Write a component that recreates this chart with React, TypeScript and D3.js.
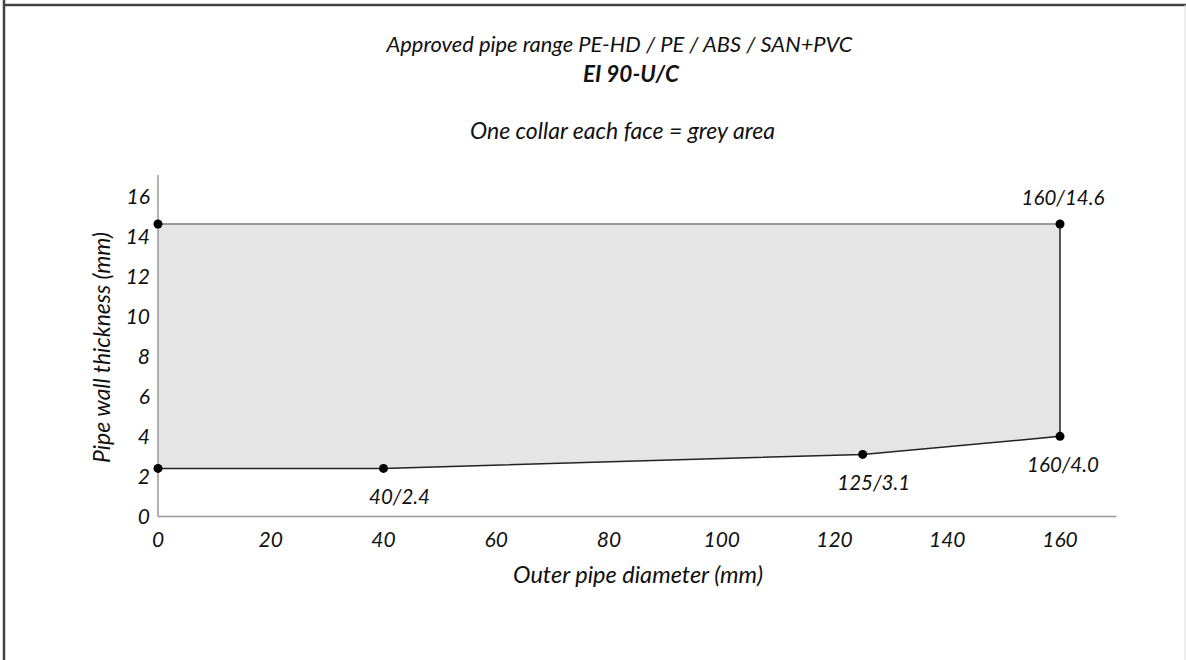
import React from "react";
import * as d3 from "d3";

const xTicks = [0, 20, 40, 60, 80, 100, 120, 140, 160];
const yTicks = [0, 2, 4, 6, 8, 10, 12, 14, 16];
const areaX = [0, 160, 160, 125, 40, 0];
const areaY = [14.6, 14.6, 4.0, 3.1, 2.4, 2.4];
const pointX = [0, 0, 40, 125, 160, 160];
const pointY = [14.6, 2.4, 2.4, 3.1, 4.0, 14.6];
const labelX = [40, 125, 160, 160];
const labelY = [2.4, 3.1, 4.0, 14.6];
const labelText = ["40/2.4", "125/3.1", "160/4.0", "160/14.6"];
const labelDx = [16, 11, 3, 3];
const labelDy = [36, 36, 36, -19];

const W = 1186;
const H = 660;
const FONT = "Lato, 'Open Sans', sans-serif";
const TXT = "#111";

export default function App() {
  const x = d3.scaleLinear().domain([0, 160]).range([158, 1060]);
  const y = d3.scaleLinear().domain([0, 14.6]).range([516.5, 224]);
  const xMax = 170;
  const yMax = 17.05;

  const pts: [number, number][] = areaX.map((v, i) => [x(v), y(areaY[i])]);
  const poly = d3.line()(pts.concat([pts[0]])) || "";
  const bottom =
    d3.line()([
      [x(0), y(2.4)],
      [x(40), y(2.4)],
      [x(125), y(3.1)],
      [x(160), y(4.0)],
      [x(160), y(14.6)],
    ]) || "";
  const top =
    d3.line()([
      [x(0), y(14.6)],
      [x(160), y(14.6)],
    ]) || "";

  const common = { fontFamily: FONT, fontStyle: "italic", fill: TXT } as any;

  return (
    <svg width={W} height={H} style={{ position: "fixed", left: 0, top: 0, background: "#fff" }}>
      {/* frame */}
      <line x1={4} y1={0} x2={4} y2={H} stroke="#444" strokeWidth={2.5} />
      <line x1={3} y1={5} x2={W} y2={5} stroke="#444" strokeWidth={2.5} />
      <line x1={1185} y1={5} x2={1185} y2={H} stroke="#ddd" strokeWidth={1} />

      {/* titles */}
      <text x={386.5} y={52} {...common} fontSize={22} textLength={466} lengthAdjust="spacingAndGlyphs">
        Approved pipe range PE-HD / PE / ABS / SAN+PVC
      </text>
      <text x={583} y={82} {...common} fontWeight="bold" fontSize={22} textLength={96} lengthAdjust="spacingAndGlyphs">
        EI 90-U/C
      </text>
      <text x={470} y={139} {...common} fontSize={22.5} textLength={305} lengthAdjust="spacingAndGlyphs">
        One collar each face = grey area
      </text>

      {/* area */}
      <path d={poly} fill="#e5e5e5" stroke="none" />
      <path d={top} fill="none" stroke="#999" strokeWidth={2} />
      <path d={bottom} fill="none" stroke="#222" strokeWidth={1.5} />

      {/* axes */}
      <line x1={x(0)} y1={y(0)} x2={x(0)} y2={y(yMax)} stroke="#999" strokeWidth={1.5} />
      <line x1={x(0)} y1={y(0)} x2={x(xMax)} y2={y(0)} stroke="#999" strokeWidth={1.5} />

      {xTicks.map((t) => (
        <text key={"x" + t} x={x(t)} y={547} textAnchor="middle" {...common} fontSize={21}>
          {t}
        </text>
      ))}
      {yTicks.map((t) => (
        <text key={"y" + t} x={150} y={y(t)} dy="0.36em" textAnchor="end" {...common} fontSize={21}>
          {t}
        </text>
      ))}

      <text x={513} y={583} {...common} fontSize={23} textLength={250} lengthAdjust="spacingAndGlyphs">
        Outer pipe diameter (mm)
      </text>
      <text
        transform={`translate(110, 463) rotate(-90)`}
        {...common}
        fontSize={23}
        textLength={231}
        lengthAdjust="spacingAndGlyphs"
      >
        Pipe wall thickness (mm)
      </text>

      {pointX.map((v, i) => (
        <circle key={"p" + i} cx={x(v)} cy={y(pointY[i])} r={4.5} fill="#000" />
      ))}

      {labelX.map((v, i) => (
        <text
          key={"l" + i}
          x={x(v) + labelDx[i]}
          y={y(labelY[i]) + labelDy[i]}
          textAnchor="middle"
          {...common}
          fontSize={20.5}
        >
          {labelText[i]}
        </text>
      ))}
    </svg>
  );
}
